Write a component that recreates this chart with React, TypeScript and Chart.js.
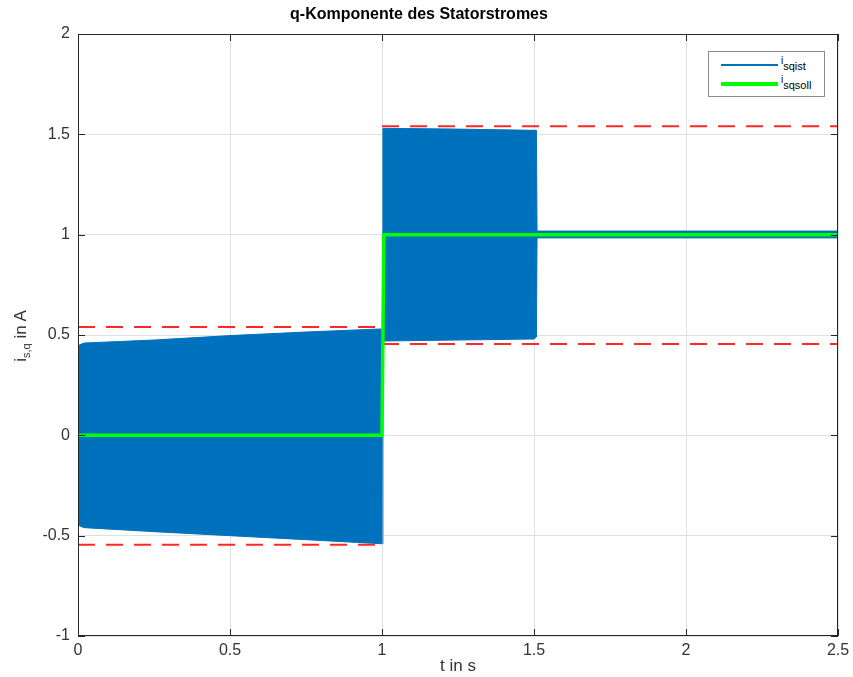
import React, { useEffect, useRef } from "react";
import { Chart, registerables } from "chart.js";
Chart.register(...registerables);

// Envelope of the oscillating actual current i_sqist (upper / lower bounds)
const envTime = [0, 0.004, 0.02, 0.25, 0.5, 0.75, 0.995, 1.0, 1.003, 1.25, 1.5, 1.508, 1.51, 2.0, 2.5];
const envUpper = [0.38, 0.45, 0.46, 0.475, 0.497, 0.515, 0.53, 0.53, 1.53, 1.526, 1.52, 1.52, 1.018, 1.018, 1.018];
const envLower = [-0.38, -0.45, -0.46, -0.48, -0.5, -0.52, -0.54, -0.54, 0.47, 0.475, 0.48, 0.49, 0.984, 0.984, 0.984];

// Setpoint i_sqsoll
const sollTime = [0, 1.0, 1.006, 2.5];
const sollValue = [0, 0, 1, 1];

// Red dashed tolerance limits
const limLeftTime = [0, 1.0];
const limLeftUpper = [0.54, 0.54];
const limLeftLower = [-0.545, -0.545];
const limRightTime = [1.0, 2.5];
const limRightUpper = [1.54, 1.54];
const limRightLower = [0.455, 0.455];

const xTicks = [0, 0.5, 1, 1.5, 2, 2.5];
const yTicks = [-1, -0.5, 0, 0.5, 1, 1.5, 2];

const titleText = "q-Komponente des Statorstromes";
const xTitle = "t in s";

const BLUE = "#0072BD";
const GREEN = "#00FF00";
const RED = "rgb(255,40,40)";
const AXIS = "#262626";
const LABEL = "#333333";
const FONT = "'Liberation Sans', Arial, Helvetica, sans-serif";

const zip = (t: number[], v: number[]) => t.map((x, i) => ({ x, y: v[i] }));

const boxPlugin = {
  id: "matlabBox",
  afterDatasetsDraw(chart: any) {
    const { ctx, chartArea: a, scales } = chart;
    ctx.save();
    ctx.strokeStyle = AXIS;
    ctx.lineWidth = 1;
    ctx.strokeRect(a.left + 0.5, a.top + 0.5, a.right - a.left - 1, a.bottom - a.top - 1);
    const L = 7;
    ctx.beginPath();
    xTicks.forEach((t) => {
      const px = Math.round(scales.x.getPixelForValue(t)) + 0.5;
      ctx.moveTo(px, a.bottom);
      ctx.lineTo(px, a.bottom - L);
      ctx.moveTo(px, a.top);
      ctx.lineTo(px, a.top + L);
    });
    yTicks.forEach((v) => {
      const py = Math.round(scales.y.getPixelForValue(v)) + 0.5;
      ctx.moveTo(a.left, py);
      ctx.lineTo(a.left + L, py);
      ctx.moveTo(a.right, py);
      ctx.lineTo(a.right - L, py);
    });
    ctx.stroke();
    ctx.restore();
  },
};

export default function App() {
  const ref = useRef<HTMLCanvasElement>(null);
  useEffect(() => {
    document.body.style.margin = "0";
    const chart = new Chart(ref.current!, {
      type: "line",
      data: {
        datasets: [
          {
            label: "isqist",
            data: zip(envTime, envUpper),
            borderColor: BLUE,
            backgroundColor: BLUE,
            borderWidth: 1,
            pointRadius: 0,
            fill: 1,
            order: 3,
          },
          {
            label: "isqist-lower",
            data: zip(envTime, envLower),
            borderColor: BLUE,
            backgroundColor: BLUE,
            borderWidth: 1,
            pointRadius: 0,
            fill: false,
            order: 3,
          },
          ...[
            [limLeftTime, limLeftUpper],
            [limLeftTime, limLeftLower],
            [limRightTime, limRightUpper],
            [limRightTime, limRightLower],
          ].map(([t, v], i) => ({
            label: "limit" + i,
            data: zip(t, v),
            borderColor: RED,
            borderWidth: 2,
            borderDash: [17, 11],
            pointRadius: 0,
            fill: false,
            order: 1,
          })),
          {
            label: "isqsoll",
            data: zip(sollTime, sollValue),
            borderColor: GREEN,
            borderWidth: 3.5,
            pointRadius: 0,
            fill: false,
            order: 0,
          },
        ],
      },
      options: {
        animation: false,
        responsive: false,
        maintainAspectRatio: false,
        parsing: false as any,
        layout: { padding: { left: 0, right: 15, top: 0, bottom: 0 } },
        plugins: {
          legend: { display: false },
          tooltip: { enabled: false },
          title: {
            display: true,
            text: titleText,
            color: "#000",
            font: { family: FONT, size: 16, weight: "bold" },
            padding: { top: 5, bottom: 9.8 },
          },
        },
        scales: {
          x: {
            type: "linear",
            min: 0,
            max: 2.5,
            afterBuildTicks: (s: any) => {
              s.ticks = xTicks.map((v) => ({ value: v }));
            },
            afterFit: (s: any) => {
              s.height = 41;
              s.paddingRight = 0;
              s.paddingLeft = 0;
            },
            ticks: {
              color: LABEL,
              font: { family: FONT, size: 16 },
              padding: 5,
              maxRotation: 0,
              callback: (v: any) => String(v),
            },
            grid: { color: "#e0e0e0", drawTicks: false },
            border: { display: false },
            title: {
              display: true,
              text: xTitle,
              color: LABEL,
              font: { family: FONT, size: 17 },
              padding: { top: 0, bottom: 0 },
            },
          },
          y: {
            type: "linear",
            min: -1,
            max: 2,
            afterBuildTicks: (s: any) => {
              s.ticks = yTicks.map((v) => ({ value: v }));
            },
            afterFit: (s: any) => {
              s.width = 78;
            },
            ticks: {
              color: LABEL,
              font: { family: FONT, size: 16 },
              padding: 8,
              callback: (v: any) => String(v),
            },
            grid: { color: "#e0e0e0", drawTicks: false },
            border: { display: false },
          },
        },
      },
      plugins: [boxPlugin],
    });
    return () => chart.destroy();
  }, []);

  return (
    <div style={{ position: "relative", width: 853, height: 677, fontFamily: FONT }}>
      <canvas ref={ref} width={853} height={677} style={{ display: "block" }} />
      <div
        style={{
          position: "absolute",
          left: 21 - 100,
          top: 336 - 12,
          width: 200,
          height: 24,
          transform: "rotate(-90deg)",
          textAlign: "center",
          fontSize: 17,
          color: LABEL,
          lineHeight: "24px",
          whiteSpace: "nowrap",
        }}
      >
        i<sub style={{ fontSize: 11 }}>s,q</sub> in A
      </div>
      <div
        style={{
          position: "absolute",
          left: 708,
          top: 51,
          width: 115,
          height: 44,
          border: "1px solid #8a8a8a",
          background: "#fff",
          fontSize: 10,
          color: "#000",
        }}
      >
        <div style={{ position: "absolute", left: 12, top: 12, width: 57, height: 2, background: BLUE }} />
        <div style={{ position: "absolute", left: 72, top: 4, whiteSpace: "nowrap", lineHeight: "10px" }}>
          i<sub style={{ fontSize: 11, verticalAlign: -6 }}>sqist</sub>
        </div>
        <div style={{ position: "absolute", left: 12, top: 30, width: 57, height: 4, background: GREEN }} />
        <div style={{ position: "absolute", left: 72, top: 23, whiteSpace: "nowrap", lineHeight: "10px" }}>
          i<sub style={{ fontSize: 11, verticalAlign: -6 }}>sqsoll</sub>
        </div>
      </div>
    </div>
  );
}
